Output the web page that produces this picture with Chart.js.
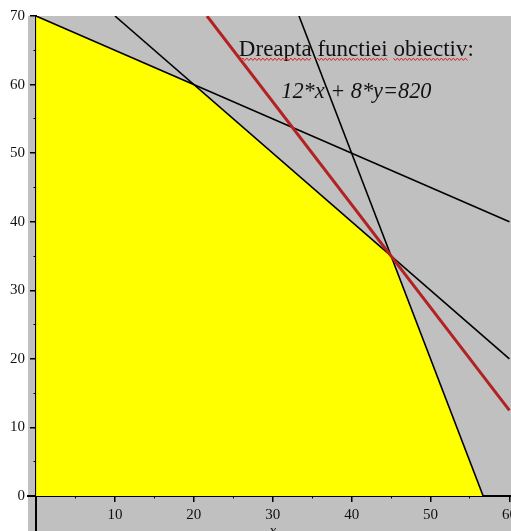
<!DOCTYPE html>
<html><head><meta charset="utf-8">
<script src="https://cdn.jsdelivr.net/npm/chart.js@4/dist/chart.umd.min.js"></script>
<style>html,body{margin:0;padding:0;background:#fff;overflow:hidden}#wrap{width:511px;height:531px;position:relative}</style>
</head><body><div id="wrap"><canvas id="c" width="511" height="531"></canvas></div>
<script>
// ---- data ----
const xMajorTicks = [10, 20, 30, 40, 50, 60];
const xMinorTicks = [5, 15, 25, 35, 45, 55];
const yMajorTicks = [0, 10, 20, 30, 40, 50, 60, 70];
const yMinorTicks = [5, 15, 25, 35, 45, 55, 65];
const feasibleX = [0, 20, 45, 56.67];
const feasibleY = [70, 60, 35, 0];
const constraint1X = [0, 60];
const constraint1Y = [70, 40];
const constraint2X = [10, 60];
const constraint2Y = [70, 20];
const constraint3X = [33.33, 56.67];
const constraint3Y = [70, 0];
const objectiveX = [21.67, 60];
const objectiveY = [70, 12.5];
const noteLines = ['Dreapta functiei obiectiv:', '12*x + 8*y=820'];
const xAxisTitle = 'x';

const zip = (xs, ys) => xs.map((v, i) => ({x: v, y: ys[i]}));
const serif = "'Liberation Serif','Times New Roman',serif";
const fixedTicks = list => s => { s.ticks = list.map(v => ({value: v})); };
const noPad = s => { s.paddingLeft = s.paddingRight = s.paddingTop = s.paddingBottom = 0; };
const collapse = s => { noPad(s); if (s.isHorizontal()) s.height = 0; else s.width = 0; };

const X_MIN = -1.02, X_MAX = 60.2, Y_MIN = -5.1, Y_MAX = 70;
const tickFont = {family: serif, size: 15};

const majorAxis = (min, max, pos, list, showLabels) => ({
  type: 'linear', min, max, position: pos, z: 1,
  afterBuildTicks: fixedTicks(list),
  afterFit: collapse,
  ticks: {display: showLabels, autoSkip: false, maxRotation: 0, color: '#111', padding: 5, font: tickFont},
  grid: {drawOnChartArea: false, drawTicks: true, tickLength: 5, color: '#000', lineWidth: 1.5},
  border: {display: true, color: '#000', width: 2}
});
const minorAxis = (min, max, pos, list) => ({
  type: 'linear', min, max, position: pos, z: 1,
  afterBuildTicks: fixedTicks(list),
  afterFit: collapse,
  ticks: {display: false},
  grid: {drawOnChartArea: false, drawTicks: true, tickLength: 2.5, color: '#000', lineWidth: 1},
  border: {display: false}
});

const bgPlugin = {
  id: 'bg',
  beforeDraw(chart) {
    const {ctx, chartArea: a} = chart;
    ctx.save();
    ctx.fillStyle = '#c0c0c0';
    ctx.fillRect(a.left, a.top, chart.width - a.left, chart.height - a.top);
    ctx.restore();
  }
};

const notePlugin = {
  id: 'note',
  afterDraw(chart) {
    const {ctx, scales: {x, y}} = chart;
    const cx = x.getPixelForValue(40.6);
    const b1 = y.getPixelForValue(64.2);
    const b2 = y.getPixelForValue(58.0);
    ctx.save();
    ctx.fillStyle = '#111';
    ctx.textAlign = 'left';
    ctx.textBaseline = 'alphabetic';
    ctx.font = '23px ' + serif;
    const w1 = ctx.measureText(noteLines[0]).width;
    const left1 = cx - w1 / 2;
    ctx.fillText(noteLines[0], left1, b1);
    // spell-check style wavy underline under the words
    ctx.strokeStyle = '#e02020';
    ctx.lineWidth = 1;
    const words = noteLines[0].replace(':', '').split(' ');
    let prefix = '';
    words.forEach(wd => {
      const off = ctx.measureText(prefix).width;
      const ww = ctx.measureText(wd).width;
      const sx = left1 + off, ex = sx + ww, yy = b1 + 3.5;
      ctx.beginPath();
      let k = 0;
      for (let px = sx; px <= ex; px += 2, k++) {
        const py = yy + (k % 2 === 0 ? -1.2 : 1.2);
        if (k === 0) ctx.moveTo(px, py); else ctx.lineTo(px, py);
      }
      ctx.stroke();
      prefix += wd + ' ';
    });
    ctx.font = 'italic 22.3px ' + serif;
    ctx.textAlign = 'center';
    ctx.fillText(noteLines[1], cx, b2);
    ctx.font = 'italic 15px ' + serif;
    ctx.fillText(xAxisTitle, x.getPixelForValue(30), chart.height + 4);
    ctx.restore();
  }
};

new Chart(document.getElementById('c'), {
  type: 'scatter',
  data: {
    datasets: [
      {data: zip(objectiveX, objectiveY), showLine: true, borderColor: '#b22222', borderWidth: 3, pointRadius: 0, fill: false},
      {data: zip(constraint1X, constraint1Y), showLine: true, borderColor: '#000', borderWidth: 1.6, pointRadius: 0, fill: false},
      {data: zip(constraint2X, constraint2Y), showLine: true, borderColor: '#000', borderWidth: 1.6, pointRadius: 0, fill: false},
      {data: zip(constraint3X, constraint3Y), showLine: true, borderColor: '#000', borderWidth: 1.6, pointRadius: 0, fill: false},
      {data: zip(feasibleX, feasibleY), showLine: true, borderWidth: 0, borderColor: 'rgba(0,0,0,0)', backgroundColor: '#ffff00', pointRadius: 0, fill: 'origin'}
    ]
  },
  options: {
    responsive: false,
    animation: false,
    layout: {padding: {left: 0, top: 16, right: 0, bottom: 0}},
    plugins: {legend: {display: false}, tooltip: {enabled: false}},
    scales: {
      x: majorAxis(X_MIN, X_MAX, {y: 0}, xMajorTicks, true),
      y: majorAxis(Y_MIN, Y_MAX, {x: 0}, yMajorTicks, false),
      x2: minorAxis(X_MIN, X_MAX, {y: 0}, xMinorTicks),
      y2: minorAxis(Y_MIN, Y_MAX, {x: 0}, yMinorTicks),
      yl: {
        type: 'linear', min: Y_MIN, max: Y_MAX, position: 'left',
        afterBuildTicks: fixedTicks(yMajorTicks),
        afterFit: s => { noPad(s); s.width = 28; },
        ticks: {autoSkip: false, color: '#111', padding: 3, font: tickFont},
        grid: {display: false, drawTicks: false, drawOnChartArea: false},
        border: {display: false}
      }
    }
  },
  plugins: [bgPlugin, notePlugin]
});
</script>
</body></html>
